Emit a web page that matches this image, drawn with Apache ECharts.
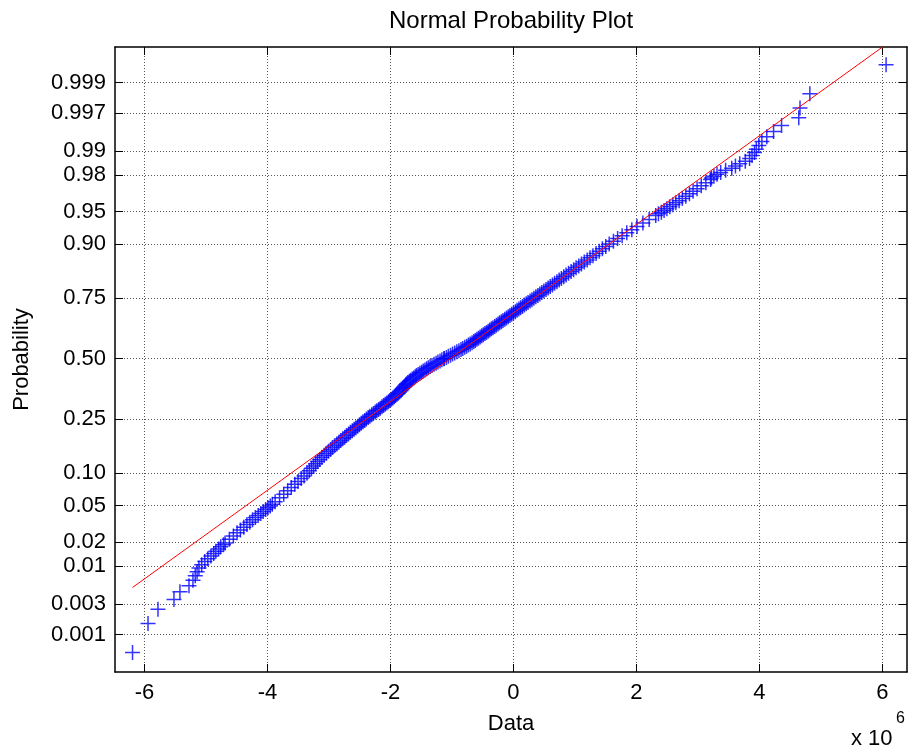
<!DOCTYPE html>
<html>
<head>
<meta charset="utf-8">
<script src="https://cdn.jsdelivr.net/npm/echarts@6/dist/echarts.min.js"></script>
<style>
html,body{margin:0;padding:0;background:#ffffff;}
#chart{width:909px;height:749px;}
</style>
</head>
<body>
<div id="chart"></div>
<script>
// ---------------- data ----------------
const chartTitle = 'Normal Probability Plot';
const xAxisName = 'Data';
const yAxisName = 'Probability';
const xScaleNote = 'x 10';
const xScaleExponent = '6';

const sampleSize = 1000;   // number of observations in the plot

// ranks (1 = smallest) of the observations drawn, and their values (x 10^6)
const sampleRanks = [
  1,2,3,4,5,6,7,8,9,10,11,12,13,14,15,16,17,18,19,20,
  22,24,26,28,30,32,34,36,38,40,42,44,46,48,50,52,
  55,60,65,70,75,80,85,90,95,100,105,110,115,120,125,130,135,140,145,150,
  155,160,165,170,175,180,185,190,195,200,205,210,215,220,225,230,235,240,245,250,
  255,260,265,270,275,280,285,290,295,300,305,310,315,320,325,330,335,340,345,350,
  355,360,365,370,375,380,385,390,395,400,405,410,415,420,425,430,435,440,445,450,
  455,460,465,470,475,480,485,490,495,500,
  501,506,511,516,521,526,531,536,541,546,551,556,561,566,571,576,581,586,591,596,
  601,606,611,616,621,626,631,636,641,646,651,656,661,666,671,676,681,686,691,696,
  701,706,711,716,721,726,731,736,741,746,751,756,761,766,771,776,781,786,791,796,
  801,806,811,816,821,826,831,836,841,846,851,856,861,866,871,876,881,886,891,896,
  901,906,911,916,921,926,931,936,941,946,
  948,950,952,954,956,958,960,962,964,966,968,970,972,974,976,978,
  979,980,981,982,983,984,985,986,987,988,989,990,991,992,993,994,995,996,997,998,999,1000
];
const sampleValues = [
  -6.195,-5.943,-5.781,-5.521,-5.424,-5.277,-5.212,-5.175,-5.145,-5.115,-5.070,-5.020,-4.970,-4.920,-4.875,-4.840,-4.795,-4.760,-4.715,-4.690,
  -4.620,-4.555,-4.495,-4.440,-4.385,-4.335,-4.287,-4.243,-4.197,-4.152,-4.109,-4.070,-4.030,-3.993,-3.955,-3.922,
  -3.876,-3.804,-3.736,-3.672,-3.614,-3.555,-3.503,-3.452,-3.405,-3.358,-3.320,-3.285,-3.251,-3.217,-3.185,-3.150,-3.116,-3.079,-3.042,-3.008,
  -2.973,-2.943,-2.908,-2.873,-2.840,-2.808,-2.776,-2.744,-2.715,-2.682,-2.652,-2.621,-2.591,-2.562,-2.532,-2.503,-2.476,-2.447,-2.419,-2.392,
  -2.362,-2.335,-2.304,-2.277,-2.248,-2.222,-2.193,-2.166,-2.139,-2.113,-2.086,-2.059,-2.032,-2.008,-1.984,-1.961,-1.939,-1.919,-1.896,-1.875,
  -1.854,-1.831,-1.813,-1.799,-1.782,-1.768,-1.752,-1.738,-1.718,-1.694,-1.671,-1.646,-1.623,-1.598,-1.578,-1.550,-1.521,-1.494,-1.468,-1.439,
  -1.411,-1.384,-1.355,-1.325,-1.291,-1.258,-1.228,-1.194,-1.164,-1.130,
  -1.126,-1.091,-1.059,-1.023,-0.990,-0.955,-0.921,-0.887,-0.853,-0.824,-0.792,-0.761,-0.732,-0.703,-0.673,-0.645,-0.621,-0.595,-0.569,-0.542,
  -0.516,-0.490,-0.464,-0.438,-0.411,-0.385,-0.359,-0.333,-0.305,-0.278,-0.250,-0.224,-0.196,-0.170,-0.141,-0.113,-0.085,-0.057,-0.029,0.000,
  0.030,0.058,0.088,0.117,0.147,0.177,0.207,0.237,0.270,0.300,0.332,0.364,0.397,0.429,0.461,0.495,0.530,0.564,0.598,0.634,
  0.669,0.707,0.743,0.779,0.818,0.856,0.896,0.937,0.979,1.019,1.062,1.106,1.152,1.199,1.245,1.293,1.344,1.394,1.446,1.501,
  1.557,1.626,1.694,1.767,1.843,1.925,2.009,2.105,2.207,2.314,
  2.358,2.405,2.450,2.495,2.543,2.592,2.641,2.694,2.746,2.803,2.862,2.921,2.986,3.054,3.129,3.205,
  3.22,3.26,3.31,3.37,3.45,3.55,3.61,3.68,3.77,3.84,3.88,3.92,3.95,3.99,4.04,4.12,4.23,4.36,4.64,4.66,4.82,6.06
];

// probability tick labels of the y axis
const probTickLabels = ['0.001','0.003','0.01','0.02','0.05','0.10','0.25','0.50','0.75','0.90','0.95','0.98','0.99','0.997','0.999'];
// x axis tick values (x 10^6)
const xTickValues = [-6, -4, -2, 0, 2, 4, 6];

// reference line (fitted through the quartiles) : mean and sigma, x 10^6
const refMean = -1.030;
const refSigma = 2.015;

// axis ranges
const xRange = [-6.48, 6.40];
const zRange = [-3.51, 3.49];

// ---------------- helpers ----------------
// inverse of the standard normal CDF (probability scale of the y axis)
function probit(p) {
  const a = [-3.969683028665376e+01, 2.209460984245205e+02, -2.759285104469687e+02, 1.383577518672690e+02, -3.066479806614716e+01, 2.506628277459239e+00];
  const b = [-5.447609879822406e+01, 1.615858368580409e+02, -1.556989798598866e+02, 6.680131188771972e+01, -1.328068155288572e+01];
  const c = [-7.784894002430293e-03, -3.223964580411365e-01, -2.400758277161838e+00, -2.549732539343734e+00, 4.374664141464968e+00, 2.938163982698783e+00];
  const d = [7.784695709041462e-03, 3.224671290700398e-01, 2.445134137142996e+00, 3.754408661907416e+00];
  const pl = 0.02425, ph = 1 - pl;
  let q, r;
  if (p < pl) {
    q = Math.sqrt(-2 * Math.log(p));
    return (((((c[0]*q+c[1])*q+c[2])*q+c[3])*q+c[4])*q+c[5]) / ((((d[0]*q+d[1])*q+d[2])*q+d[3])*q+1);
  }
  if (p <= ph) {
    q = p - 0.5; r = q * q;
    return (((((a[0]*r+a[1])*r+a[2])*r+a[3])*r+a[4])*r+a[5])*q / (((((b[0]*r+b[1])*r+b[2])*r+b[3])*r+b[4])*r+1);
  }
  q = Math.sqrt(-2 * Math.log(1 - p));
  return -(((((c[0]*q+c[1])*q+c[2])*q+c[3])*q+c[4])*q+c[5]) / ((((d[0]*q+d[1])*q+d[2])*q+d[3])*q+1);
}

const probTickValues = probTickLabels.map(s => probit(parseFloat(s)));
function probLabel(v) {
  for (let i = 0; i < probTickValues.length; i++) {
    if (Math.abs(probTickValues[i] - v) < 1e-6) return probTickLabels[i];
  }
  return '';
}

// plotting positions (i - 0.5) / n on the normal probability scale
const scatterData = sampleRanks.map((rk, i) => [sampleValues[i], probit((rk - 0.5) / sampleSize)]);

const dataMin = Math.min.apply(null, sampleValues);
const dataMax = Math.max.apply(null, sampleValues);
const refLineData = [
  [dataMin, (dataMin - refMean) / refSigma],
  [dataMax, (dataMax - refMean) / refSigma]
];

const FONT = '"Liberation Sans", Arial, Helvetica, sans-serif';
const gridLine = { show: true, lineStyle: { color: '#555555', type: [1, 2], width: 1 } };
const frameLine = { show: true, onZero: false, lineStyle: { color: '#000000', width: 1.5 } };

const chart = echarts.init(document.getElementById('chart'), null, { renderer: 'canvas' });
chart.setOption({
  backgroundColor: '#ffffff',
  animation: false,
  title: {
    text: chartTitle,
    left: 511,
    top: 9,
    textAlign: 'center',
    padding: 0,
    textStyle: { fontFamily: FONT, fontSize: 24, fontWeight: 'normal', color: '#000000' }
  },
  grid: { left: 115, right: 2, top: 47, bottom: 77, containLabel: false },
  xAxis: [
    {
      type: 'value', position: 'bottom', min: xRange[0], max: xRange[1],
      axisLine: frameLine,
      axisTick: { show: true, inside: true, length: 8, customValues: xTickValues, lineStyle: { color: '#000000' } },
      axisLabel: { show: true, customValues: xTickValues, margin: 10, color: '#000000', fontFamily: FONT, fontSize: 22,
                   formatter: v => String(v) },
      splitLine: gridLine,
      name: xAxisName, nameLocation: 'middle', nameGap: 41,
      nameTextStyle: { fontFamily: FONT, fontSize: 22, color: '#000000' }
    },
    {
      type: 'value', position: 'top', min: xRange[0], max: xRange[1],
      axisLine: frameLine,
      axisTick: { show: true, inside: true, length: 8, customValues: xTickValues, lineStyle: { color: '#000000' } },
      axisLabel: { show: false },
      splitLine: { show: false }
    }
  ],
  yAxis: [
    {
      type: 'value', position: 'left', min: zRange[0], max: zRange[1],
      axisLine: frameLine,
      axisTick: { show: true, inside: true, length: 8, customValues: probTickValues, lineStyle: { color: '#000000' } },
      axisLabel: { show: true, customValues: probTickValues, margin: 9, color: '#000000', fontFamily: FONT, fontSize: 22,
                   formatter: probLabel },
      splitLine: gridLine,
      name: yAxisName, nameLocation: 'middle', nameGap: 82,
      nameTextStyle: { fontFamily: FONT, fontSize: 22, color: '#000000' }
    },
    {
      type: 'value', position: 'right', min: zRange[0], max: zRange[1],
      axisLine: frameLine,
      axisTick: { show: true, inside: true, length: 8, customValues: probTickValues, lineStyle: { color: '#000000' } },
      axisLabel: { show: false },
      splitLine: { show: false }
    }
  ],
  graphic: [
    { type: 'text', left: 851, top: 728, silent: true,
      style: { text: xScaleNote, fontFamily: FONT, fontSize: 22, fill: '#000000' } },
    { type: 'text', left: 896, top: 711, silent: true,
      style: { text: xScaleExponent, fontFamily: FONT, fontSize: 16, fill: '#000000' } }
  ],
  series: [
    {
      type: 'scatter',
      xAxisIndex: 0, yAxisIndex: 0,
      data: scatterData,
      symbol: 'path://M0,6L12,6M6,0L6,12',
      symbolSize: 15,
      itemStyle: { color: 'rgba(0,0,0,0)', borderColor: '#0000ff', borderWidth: 1.5 },
      emphasis: { disabled: true },
      silent: true,
      z: 2
    },
    {
      type: 'line',
      xAxisIndex: 0, yAxisIndex: 0,
      data: refLineData,
      symbol: 'none',
      clip: true,
      lineStyle: { color: '#ff0000', width: 1 },
      silent: true,
      z: 3
    }
  ]
});
</script>
</body>
</html>
